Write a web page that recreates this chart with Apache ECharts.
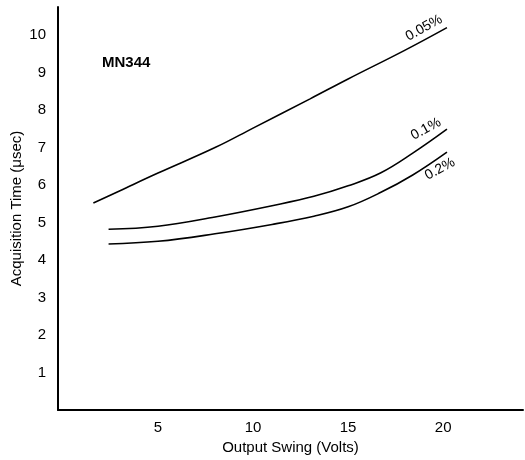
<!DOCTYPE html>
<html>
<head>
<meta charset="utf-8">
<script src="https://cdn.jsdelivr.net/npm/echarts@6/dist/echarts.min.js"></script>
<style>
html,body{margin:0;padding:0;background:#fff;}
#chart{width:525px;height:460px;}
</style>
</head>
<body>
<div id="chart"></div>
<script>
// Data (x = Output Swing in Volts, y = Acquisition Time in µsec)
var curve005 = [[1.6,5.52],[3,5.85],[5,6.32],[8,7.0],[10,7.52],[13,8.3],[15,8.83],[18,9.6],[20.2,10.2]];
var curve01  = [[2.4,4.82],[5,4.9],[8,5.15],[11,5.45],[13.2,5.7],[15,5.98],[16.7,6.32],[18.4,6.85],[20.2,7.49]];
var curve02  = [[2.4,4.43],[5,4.5],[8,4.7],[11,4.95],[13.2,5.17],[15,5.42],[16.7,5.8],[18.4,6.27],[20.2,6.88]];
var xTicks = [5,10,15,20];
var yTicks = [1,2,3,4,5,6,7,8,9,10];
var seriesNames = ['0.05%','0.1%','0.2%'];

var font = 'Liberation Sans, Arial, Helvetica, sans-serif';
var chart = echarts.init(document.getElementById('chart'), null, {renderer:'canvas'});

function lineSeries(name, data){
  return {
    name: name, type: 'line', data: data, smooth: 0.4, showSymbol: false,
    lineStyle: {color:'#000', width:1.6}, silent: true
  };
}

chart.setOption({
  backgroundColor: '#fff',
  animation: false,
  grid: {left:58, right:2, top:7, bottom:50, containLabel:false},
  xAxis: {
    type: 'value', min: -0.26, max: 24.2,
    name: 'Output Swing (Volts)', nameLocation: 'middle', nameGap: 30,
    nameTextStyle: {color:'#000', fontSize:15, fontFamily:font},
    axisLine: {show:true, onZero:false, lineStyle:{color:'#000', width:2}},
    axisTick: {show:false},
    splitLine: {show:false},
    axisLabel: {customValues: xTicks, color:'#000', fontSize:15, fontFamily:font, margin:10}
  },
  yAxis: {
    type: 'value', min: 0, max: 10.75,
    name: 'Acquisition Time (\u03bcsec)', nameLocation: 'middle', nameGap: 34, nameMoveOverlap: false,
    nameTextStyle: {color:'#000', fontSize:15, fontFamily:font},
    axisLine: {show:true, onZero:false, lineStyle:{color:'#000', width:2}},
    axisTick: {show:false},
    splitLine: {show:false},
    axisLabel: {customValues: yTicks, color:'#000', fontSize:15, fontFamily:font, margin:12}
  },
  series: [
    lineSeries(seriesNames[0], curve005),
    lineSeries(seriesNames[1], curve01),
    lineSeries(seriesNames[2], curve02)
  ],
  graphic: [
    {type:'text', left:102, top:55, style:{text:'MN344', fill:'#000', font:'bold 15px '+font}},
    {type:'text', x:424, y:28, rotation:0.5, style:{text:seriesNames[0], fill:'#000', font:'14px '+font, align:'center', verticalAlign:'middle'}},
    {type:'text', x:426, y:129, rotation:0.5, style:{text:seriesNames[1], fill:'#000', font:'14px '+font, align:'center', verticalAlign:'middle'}},
    {type:'text', x:440, y:169, rotation:0.5, style:{text:seriesNames[2], fill:'#000', font:'14px '+font, align:'center', verticalAlign:'middle'}}
  ]
});
</script>
</body>
</html>
